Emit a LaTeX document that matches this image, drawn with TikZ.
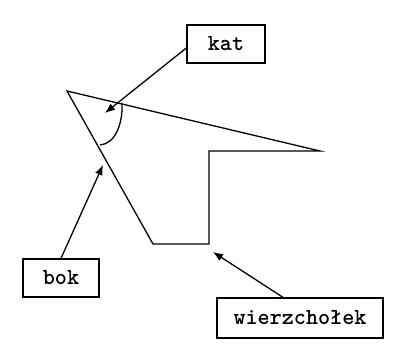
\documentclass[tikz,border=0pt]{standalone}
\usepackage{fontspec}
\usepackage{tikz}
\usetikzlibrary{arrows.meta}
\usetikzlibrary{calc}

\begin{document}
\begin{tikzpicture}
	[
	x=1pt, y=1pt,
	> = {Latex[length=10pt,width=8pt]},
	line width=1.3pt,
	tag/.style = {draw, inner sep=0pt, font=\ttfamily\bfseries\fontsize{23}{27}\selectfont}
	]
	\useasboundingbox (0,0) rectangle (394,356);

	% figure
	\coordinate (A) at (67,265);
	\coordinate (T) at (320,205);
	\coordinate (S1) at (209,205);
	\coordinate (S2) at (209,112);
	\coordinate (B) at (153,112);
	\draw[line join=miter] (A) -- (T) -- (S1) -- (S2) -- (B) -- cycle;
	\draw (122,253) .. controls (123,232) and (115,212) .. (100,211);

	% labels
	\node[tag, minimum width=78pt, minimum height=38pt] (kat) at (226,312) {kat};
	\node[tag, minimum width=76pt, minimum height=38pt] (bok) at (61,78) {bok};
	\node[tag, minimum width=166pt, minimum height=40pt] (wierz) at (300,38) {wierzchołek};

	\coordinate (katend) at (105,243);
	\coordinate (bokend) at (103,191);
	\coordinate (wierzend) at (213,104);
	\draw[->] ([yshift=-4pt]kat.west) to (katend);
	\draw[->] (bok.north) to (bokend);
	\draw[->] ([xshift=-17pt]wierz.north) to (wierzend);
\end{tikzpicture}
\end{document}
